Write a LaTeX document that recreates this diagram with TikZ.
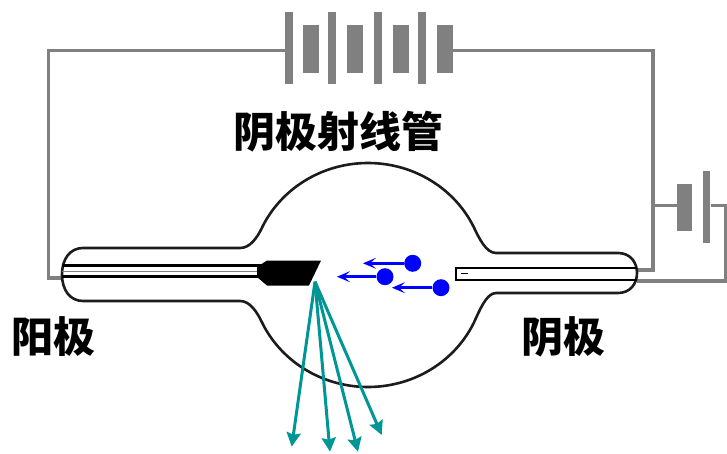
\documentclass[tikz,border=0pt]{standalone}
\usepackage{fontspec}
\newfontfamily\cjk{Noto Sans CJK SC}
\usetikzlibrary{arrows.meta}
\definecolor{wiregray}{RGB}{128,128,128}
\definecolor{glass}{RGB}{28,28,28}
\definecolor{xray}{RGB}{0,150,150}
\definecolor{electron}{RGB}{0,0,255}

\begin{document}
\begin{tikzpicture}[x=1pt,y=-1pt,
  wire/.style={draw=wiregray, line width=3.8pt},
  longplate/.style={fill=wiregray, draw=none, inner sep=0pt, minimum width=7.6pt, minimum height=72pt},
  shortplate/.style={fill=wiregray, draw=none, inner sep=0pt, minimum width=16pt, minimum height=47.5pt},
  glassline/.style={draw=glass, line width=2.6pt, line join=round},
  rodline/.style={draw=black, line width=3pt},
  dot/.style={circle, fill=electron, inner sep=0pt, minimum size=17pt},
  earrow/.style={draw=electron, line width=3pt, -{Stealth[length=13pt, width=11pt, inset=6pt]}},
  xarrow/.style={draw=xray, line width=3pt, -{Stealth[length=14pt, width=14pt, inset=2pt]}},
  lbl/.style={font=\cjk\bfseries\fontsize{42}{42}\selectfont, inner sep=0pt}
]
\useasboundingbox (0,0) rectangle (727,454);

% ---------- main battery (top) ----------
\node[longplate]  (p1) at (288.7,48) {};
\node[shortplate] (q1) at (311.3,49.2) {};
\node[longplate]  (p2) at (332.2,48) {};
\node[shortplate] (q2) at (355,49.2) {};
\node[longplate]  (p3) at (378.2,48) {};
\node[shortplate] (q3) at (401,49.2) {};
\node[longplate]  (p4) at (421.9,48.5) {};
\node[shortplate] (q4) at (444.7,49.2) {};

% ---------- heater battery (right) ----------
\node[shortplate, minimum width=15.3pt, minimum height=47pt] (s1) at (684.5,207.5) {};
\node[longplate] (s2) at (706.5,206.7) {};

% ---------- wiring points ----------
\coordinate (tl) at (48.5,50.5);
\coordinate (bl) at (48.5,278.3);
\coordinate (aEnd) at (63,278.3);
\coordinate (tr) at (652.7,50.5);
\coordinate (rmid) at (652.7,205.5);
\coordinate (rlow) at (652.7,270);
\coordinate (cEndA) at (637,270);
\coordinate (rr) at (725.3,205.5);
\coordinate (rrb) at (725.3,281);
\coordinate (cEndB) at (637,281);

\draw[wire] (p1.west |- tl) -- (tl) -- (bl) -- (aEnd);
\draw[wire] (q4.east |- tl) -- (tr) -- (rlow) -- (cEndA);
\draw[wire, line width=3.4pt] (rmid) -- (s1.west |- rmid);
\draw[wire, line width=3.4pt] (s2.east |- rmid) -- (rr) -- (rrb) -- (cEndB);

% ---------- glass envelope ----------
\draw[glassline]
  (83,248) -- (240,248)
  .. controls (250,248) and (257,238) .. (262,227.7)
  -- plot[domain=155:25, samples=80] ({368+117*cos(\x)}, {275-112*sin(\x)})
  .. controls (479,238) and (486,253) .. (496,253)
  -- (618,253)
  .. controls (630,253) and (637,262) .. (637,273)
  .. controls (637,284) and (630,293) .. (618,293)
  -- (496,293)
  .. controls (486,293) and (479,312) .. (474,322.3)
  -- plot[domain=-25:-155, samples=80] ({368+117*cos(\x)}, {275-112*sin(\x)})
  .. controls (257,312) and (250,301) .. (240,301)
  -- (83,301)
  .. controls (70,301) and (62,290) .. (62,274.5)
  .. controls (62,259) and (70,248) .. (83,248) -- cycle;

% ---------- anode: rod and target ----------
\coordinate (ar1) at (62,265.5);
\coordinate (ar2) at (262,265.5);
\coordinate (ar3) at (62,276.5);
\coordinate (ar4) at (262,276.5);
\draw[rodline] (ar1) -- (ar2);
\draw[rodline] (ar3) -- (ar4);
\draw[draw=gray, line width=0.8pt] (62,271) -- (262,271);
\fill[black] (257,267) -- (267,260.5) -- (321,260.5) -- (309,285.5)
  -- (267,285.5) -- (257,277) -- cycle;

% ---------- cathode rod ----------
\draw[draw=black, line width=2pt] (637,268) -- (456,268) -- (456,279.5) -- (637,279.5);
\draw[draw=black, line width=1.2pt] (461,273.5) -- (468,273.5);

% ---------- electrons ----------
\node[dot] (e1) at (412.7,263.3) {};
\node[dot] (e2) at (385,276.7) {};
\node[dot] (e3) at (441,287.7) {};
\coordinate (e1t) at (363,263.3);
\coordinate (e2t) at (337,276.7);
\coordinate (e3t) at (392,287.7);
\draw[earrow] (e1) -- (e1t);
\draw[earrow] (e2) -- (e2t);
\draw[earrow] (e3) -- (e3t);

% ---------- X-rays ----------
\coordinate (src) at (315,281.7);
\coordinate (x1) at (291.7,446.7);
\coordinate (x2) at (330,451.7);
\coordinate (x3) at (358,451.7);
\coordinate (x4) at (381.7,435);
\draw[xarrow] (src) -- (x1);
\draw[xarrow] (src) -- (x2);
\draw[xarrow] (src) -- (x3);
\draw[xarrow] (src) -- (x4);

% ---------- labels ----------
\node[lbl] (title) at (338,132) {阴极射线管};
\node[lbl] (anode) at (53.5,337) {阳极};
\node[lbl] (cathode) at (563.5,337) {阴极};
\end{tikzpicture}
\end{document}
